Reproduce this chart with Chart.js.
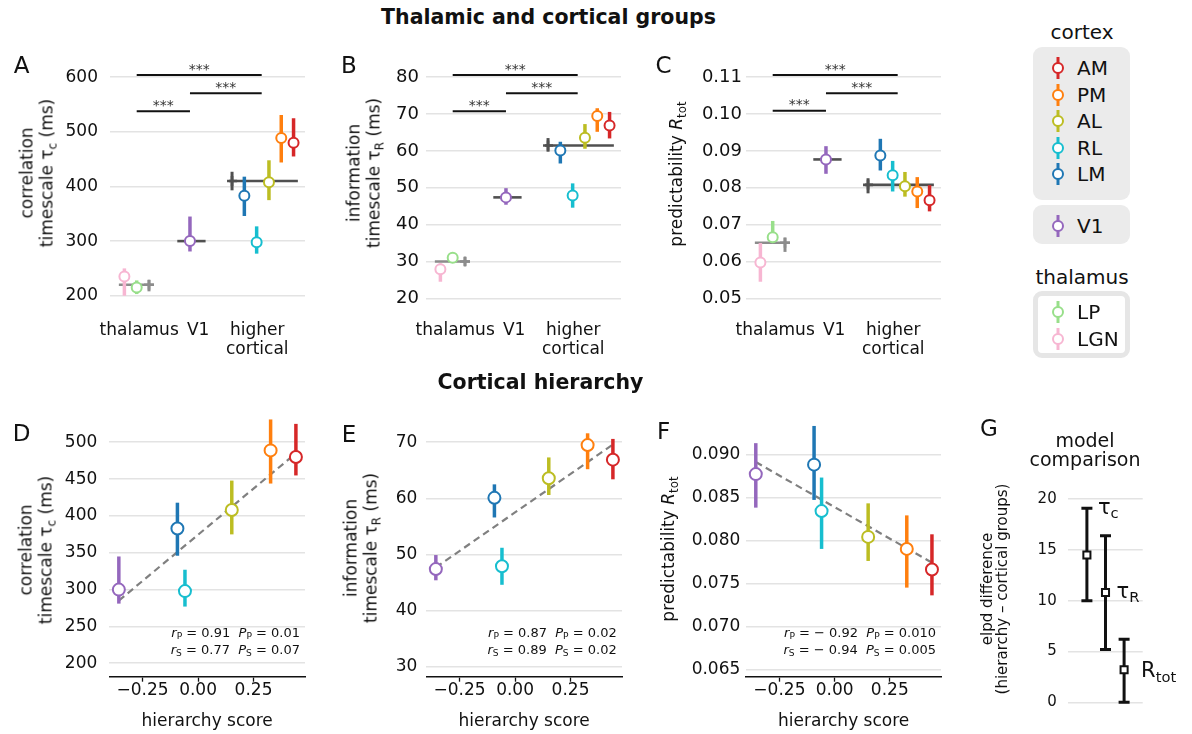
<!DOCTYPE html>
<html>
<head>
<meta charset="utf-8">
<script src="https://cdn.jsdelivr.net/npm/chart.js@4.4.0/dist/chart.umd.min.js"></script>
<style>
  body { margin: 0; background: #fff; }
  #fig { position: relative; width: 1192px; height: 734px; overflow: hidden; font-family: 'DejaVu Sans', sans-serif; color: #111; }
  canvas.panel { position: absolute; }
  .txt { position: absolute; white-space: nowrap; line-height: 1; }
  .c { transform: translate(-50%, -50%); text-align: center; }
  .rot { transform: translate(-50%, -50%) rotate(-90deg); text-align: center; }
  .r { transform: translate(-100%, -50%); text-align: right; }
  sub { font-size: 0.7em; vertical-align: -0.3em; line-height: 0; }
  .legbox { position: absolute; left: 1033px; width: 97px; border-radius: 9px; box-sizing: border-box; }
</style>
</head>
<body>
<div id="fig"></div>
<script>
// areas, in plotting order for panels A-C
const areaNames = ['LGN', 'LP', 'V1', 'LM', 'RL', 'AL', 'PM', 'AM'];
const areaColors = ['#f7b6d2', '#98df8a', '#9467bd', '#1f77b4', '#17becf', '#bcbd22', '#ff7f0e', '#d62728'];
const areaSlot = [-1, 0, 4.33, 8.75, 9.75, 10.75, 11.75, 12.75];
const groupLabels = ['thalamus', 'V1', ['higher', 'cortical']];
const groupTickSlot = [0.2, 5.0, 9.8];

// per-area estimates (median, lower, upper)
const tauC   = [235, 215, 300, 383, 298, 408, 489, 480];
const tauCLo = [200, 203, 281, 346, 277, 375, 444, 455];
const tauCHi = [250, 228, 345, 418, 327, 448, 531, 525];
const tauR   = [27.9, 31.0, 47.4, 60.1, 47.9, 63.6, 69.5, 66.9];
const tauRLo = [24.5, 30.0, 45.4, 56.6, 44.6, 60.6, 65.2, 63.4];
const tauRHi = [29.5, 32.0, 49.9, 62.5, 51.2, 67.3, 71.6, 70.6];
const rTot   = [0.0597, 0.0666, 0.0877, 0.0888, 0.0834, 0.0804, 0.0790, 0.0766];
const rTotLo = [0.0545, 0.0650, 0.0838, 0.0847, 0.0790, 0.0776, 0.0745, 0.0736];
const rTotHi = [0.0650, 0.0710, 0.0913, 0.0933, 0.0873, 0.0843, 0.0829, 0.0807];

// group means: thalamus, V1, higher cortical
const groupSpan = [[-1.45, 1.4], [3.3, 5.6], [7.5, 13.1]];
const groupCrossSlot = [1, null, 7.75];
const groupColors = ['#8c8c8c', '#505050', '#505050'];
const tauCGroup   = [220, 300, 410];
const tauCGroupLo = [208, null, 393];
const tauCGroupHi = [229, null, 427];
const tauRGroup   = [30.0, 47.4, 61.5];
const tauRGroupLo = [28.8, null, 59.8];
const tauRGroupHi = [31.2, null, 63.5];
const rTotGroup   = [0.0651, 0.0877, 0.0808];
const rTotGroupLo = [0.0626, null, 0.0785];
const rTotGroupHi = [0.0665, null, 0.0826];

// significance brackets
const sigSpans = [[0, 10.16], [4.33, 10.16], [0, 4.33]];
const tauCSig = [604, 571, 538];
const tauRSig = [80.6, 75.7, 70.8];
const rTotSig = [0.1106, 0.1057, 0.1009];

const tauCTicks = [200, 300, 400, 500, 600];
const tauRTicks = [20, 30, 40, 50, 60, 70, 80];
const rTotTicks = [0.05, 0.06, 0.07, 0.08, 0.09, 0.10, 0.11];

// cortical hierarchy (V1, LM, RL, AL, PM, AM)
const hierScore = [-0.357, -0.093, -0.059, 0.152, 0.327, 0.441];
const hierTicks = [-0.25, 0, 0.25];
const tauCFit = [285, 485];
const tauRFit = [47.7, 69.6];
const rTotFit = [0.0891, 0.0774];
const tauCTicksD = [200, 250, 300, 350, 400, 450, 500];
const tauRTicksE = [30, 40, 50, 60, 70];
const rTotTicksF = [0.065, 0.070, 0.075, 0.080, 0.085, 0.090];
const statsD = ['0.91', '0.01', '0.77', '0.07'];
const statsE = ['0.87', '0.02', '0.89', '0.02'];
const statsF = ['− 0.92', '0.010', '− 0.94', '0.005'];

// model comparison
const modelNames = [['τ', 'c'], ['τ', 'R'], ['R', 'tot']];
const elpd   = [14.5, 10.8, 3.2];
const elpdLo = [10.0, 5.2, 0.0];
const elpdHi = [19.1, 16.4, 6.2];
const elpdTicks = [0, 5, 10, 15, 20];

Chart.defaults.font.family = "'DejaVu Sans', sans-serif";
Chart.defaults.color = '#111';
Chart.defaults.animation = false;

const fig = document.getElementById('fig');

// vertical error bars under each point of a dataset
const errorBars = {
  id: 'errorBars',
  beforeDatasetDraw(chart, args) {
    const ds = chart.data.datasets[args.index];
    if (!ds.errLo) return;
    const ctx = chart.ctx, xs = chart.scales.x, ys = chart.scales.y;
    ctx.save();
    ds.data.forEach((p, i) => {
      if (ds.errLo[i] == null) return;
      const px = xs.getPixelForValue(p.x);
      const top = ys.getPixelForValue(ds.errHi[i]);
      const bot = ys.getPixelForValue(ds.errLo[i]);
      ctx.strokeStyle = Array.isArray(ds.barColor) ? ds.barColor[i] : ds.barColor;
      ctx.lineWidth = ds.barWidth;
      ctx.beginPath();
      ctx.moveTo(px, top); ctx.lineTo(px, bot);
      if (ds.capWidth) {
        ctx.moveTo(px - ds.capWidth / 2, top); ctx.lineTo(px + ds.capWidth / 2, top);
        ctx.moveTo(px - ds.capWidth / 2, bot); ctx.lineTo(px + ds.capWidth / 2, bot);
      }
      ctx.stroke();
    });
    ctx.restore();
  }
};

const stars = {
  id: 'stars',
  afterDatasetsDraw(chart) {
    const ctx = chart.ctx, xs = chart.scales.x, ys = chart.scales.y;
    chart.data.datasets.forEach(ds => {
      if (!ds.stars) return;
      const x = (xs.getPixelForValue(ds.data[0].x) + xs.getPixelForValue(ds.data[1].x)) / 2;
      const y = ys.getPixelForValue(ds.data[0].y);
      ctx.save();
      ctx.font = "14px 'DejaVu Sans'";
      ctx.fillStyle = '#333';
      ctx.textAlign = 'center';
      ctx.textBaseline = 'alphabetic';
      ctx.fillText(ds.stars, x, y - 1.5);
      ctx.restore();
    });
  }
};

function drawSub(ctx, main, sub, x, y, size, capCentre) {
  ctx.font = size + "px 'DejaVu Sans'";
  ctx.textBaseline = 'alphabetic';
  ctx.textAlign = 'left';
  ctx.fillStyle = '#111';
  const base = y + (capCentre ? 0.36 : 0.27) * size;
  ctx.fillText(main, x, base);
  const w = ctx.measureText(main).width;
  ctx.font = (size * 0.7) + "px 'DejaVu Sans'";
  ctx.fillText(sub, x + w, base + 0.2 * size);
}

const modelLabels = {
  id: 'modelLabels',
  afterDatasetsDraw(chart) {
    const ctx = chart.ctx, xs = chart.scales.x, ys = chart.scales.y;
    ctx.save();
    modelNames.forEach((n, i) => {
      const x = xs.getPixelForValue(i) + (i === 2 ? 17 : 11);
      const y = ys.getPixelForValue(i === 0 ? elpdHi[i] : elpd[i]);
      drawSub(ctx, n[0], n[1], x, y, 21, i === 2);
    });
    ctx.restore();
  }
};

function makeCanvas(b) {
  const c = document.createElement('canvas');
  c.className = 'panel';
  c.width = b.w; c.height = b.h;
  c.style.left = b.left + 'px';
  c.style.top = b.top + 'px';
  fig.appendChild(c);
  return c;
}

function yScale(b, min, max, ticks, dec, pad, size) {
  return {
    type: 'linear', min: min, max: max,
    afterBuildTicks: s => { s.ticks = ticks.map(v => ({ value: v })); },
    afterFit: s => { s.width = b.area[0] - b.left; },
    grid: { color: '#e3e3e3', lineWidth: 1.6, drawTicks: false },
    border: { display: false },
    ticks: { padding: pad, font: { size: size }, color: '#111', callback: v => v.toFixed(dec) }
  };
}

function addText(html, x, y, cls, size, extra) {
  const d = document.createElement('div');
  d.className = 'txt ' + cls;
  d.innerHTML = html;
  d.style.left = x + 'px';
  d.style.top = y + 'px';
  d.style.fontSize = size + 'px';
  if (extra) Object.assign(d.style, extra);
  fig.appendChild(d);
}

function pts(xs, ys) { return xs.map((x, i) => ({ x: x, y: ys[i] })); }

function groupPanel(b, vals, lo, hi, gMean, gLo, gHi, sig, yMin, yMax, ticks, dec, pad, size) {
  const datasets = [{
    data: pts(areaSlot, vals), errLo: lo, errHi: hi, barColor: areaColors, barWidth: 3.5,
    pointRadius: 5, pointBorderWidth: 2, pointBackgroundColor: '#fff', pointBorderColor: areaColors,
    order: 0, clip: false
  }, {
    data: groupCrossSlot.map((x, i) => ({ x: x, y: gMean[i] })).filter(p => p.x !== null),
    errLo: gLo.filter(v => v !== null), errHi: gHi.filter(v => v !== null),
    barColor: [groupColors[0], groupColors[2]], barWidth: 3,
    pointStyle: 'cross', pointRadius: 5, pointBorderWidth: 2.6,
    pointBorderColor: [groupColors[0], groupColors[2]], order: 1, clip: false
  }];
  groupSpan.forEach((s, i) => datasets.push({
    data: [{ x: s[0], y: gMean[i] }, { x: s[1], y: gMean[i] }], showLine: true,
    borderColor: groupColors[i], borderWidth: 2.6, pointRadius: 0, order: 2, clip: false
  }));
  sigSpans.forEach((s, i) => datasets.push({
    data: [{ x: s[0], y: sig[i] }, { x: s[1], y: sig[i] }], showLine: true, stars: '***',
    borderColor: '#111', borderWidth: 2, pointRadius: 0, order: 3, clip: false
  }));
  new Chart(makeCanvas(b), {
    type: 'scatter',
    data: { datasets: datasets },
    plugins: [errorBars, stars],
    options: {
      responsive: false, events: [],
      layout: { padding: { top: b.area[1] - b.top, right: b.left + b.w - b.area[2], left: 0, bottom: 0 } },
      plugins: { legend: { display: false }, tooltip: { enabled: false } },
      scales: {
        x: {
          type: 'linear', min: -2.17, max: 13.68,
          afterBuildTicks: s => { s.ticks = groupTickSlot.map(v => ({ value: v })); },
          afterFit: s => { s.height = b.top + b.h - b.area[3]; },
          grid: { display: false }, border: { display: false },
          ticks: { padding: 12, autoSkip: false, maxRotation: 0, font: { size: 17, lineHeight: 1.12 }, color: '#111',
            callback: (v, i) => groupLabels[i] }
        },
        y: yScale(b, yMin, yMax, ticks, dec, pad, size)
      }
    }
  });
}

function hierPanel(b, vals, lo, hi, fit, yMin, yMax, ticks, dec, pad) {
  const cols = areaColors.slice(2);
  new Chart(makeCanvas(b), {
    type: 'scatter',
    data: { datasets: [{
      data: pts(hierScore, vals), errLo: lo, errHi: hi, barColor: cols, barWidth: 3.5,
      pointRadius: 6, pointBorderWidth: 2, pointBackgroundColor: '#fff', pointBorderColor: cols,
      order: 0, clip: false
    }, {
      data: [{ x: hierScore[0], y: fit[0] }, { x: hierScore[5], y: fit[1] }], showLine: true,
      borderColor: '#808080', borderWidth: 2.2, borderDash: [7, 4.5], pointRadius: 0, order: 1, clip: false
    }] },
    plugins: [errorBars],
    options: {
      responsive: false, events: [],
      layout: { padding: { top: b.area[1] - b.top, right: b.left + b.w - b.area[2], left: 0, bottom: 0 } },
      plugins: { legend: { display: false }, tooltip: { enabled: false } },
      scales: {
        x: {
          type: 'linear', min: -0.40, max: 0.482,
          afterBuildTicks: s => { s.ticks = hierTicks.map(v => ({ value: v })); },
          afterFit: s => { s.height = b.top + b.h - b.area[3]; },
          grid: { display: true, drawOnChartArea: false, drawTicks: true, tickLength: 5, color: '#111', tickWidth: 1.3 },
          border: { display: true, color: '#111', width: 1.6 },
          ticks: { padding: 0, font: { size: 17, lineHeight: 1 }, color: '#111',
            callback: v => v.toFixed(2).replace('-', '−') },
          title: { display: true, text: 'hierarchy score', font: { size: 17 }, color: '#111', padding: { top: 0, bottom: 2 } }
        },
        y: yScale(b, yMin, yMax, ticks, dec, pad, 17)
      }
    }
  });
}

// panel boxes: canvas position and the plot area inside it (left, top, right, bottom)
const boxA = { left: 0,   top: 40, w: 320, h: 320, area: [110, 69, 305, 301] };
const boxB = { left: 316, top: 40, w: 320, h: 320, area: [426, 69, 621, 301] };
const boxC = { left: 636, top: 40, w: 320, h: 320, area: [746, 69, 941, 301] };
const boxD = { left: 0,     top: 390, w: 320, h: 344, area: [109.3, 414, 305, 676.7] };
const boxE = { left: 316.7, top: 390, w: 320, h: 344, area: [426, 414, 621.7, 676.7] };
const boxF = { left: 636.7, top: 390, w: 320, h: 344, area: [746, 414, 940.7, 676.7] };
const boxG = { left: 960,   top: 400, w: 232, h: 334, area: [1068.3, 490, 1142.7, 706] };

groupPanel(boxA, tauC, tauCLo, tauCHi, tauCGroup, tauCGroupLo, tauCGroupHi, tauCSig, 190.3, 615.2, tauCTicks, 0, 12, 17);
groupPanel(boxB, tauR, tauRLo, tauRHi, tauRGroup, tauRGroupLo, tauRGroupHi, tauRSig, 19.27, 82.25, tauRTicks, 0, 7, 18);
groupPanel(boxC, rTot, rTotLo, rTotHi, rTotGroup, rTotGroupLo, rTotGroupHi, rTotSig, 0.04927, 0.11225, rTotTicks, 2, 4, 18);

hierPanel(boxD, tauC.slice(2), tauCLo.slice(2), tauCHi.slice(2), tauCFit, 181.8, 538.4, tauCTicksD, 0, 12);
hierPanel(boxE, tauR.slice(2), tauRLo.slice(2), tauRHi.slice(2), tauRFit, 28.22, 75.04, tauRTicksE, 0, 9);
hierPanel(boxF, rTot.slice(2), rTotLo.slice(2), rTotHi.slice(2), rTotFit, 0.06414, 0.09469, rTotTicksF, 3, 6);

// G: model comparison
new Chart(makeCanvas(boxG), {
  type: 'scatter',
  data: { datasets: [{
    data: pts([0, 1, 2], elpd), errLo: elpdLo, errHi: elpdHi, barColor: '#111', barWidth: 3, capWidth: 11,
    pointStyle: 'rect', pointRadius: 5, pointBorderWidth: 2, pointBackgroundColor: '#fff', pointBorderColor: '#111',
    clip: false
  }] },
  plugins: [errorBars, modelLabels],
  options: {
    responsive: false, events: [],
    layout: { padding: { top: boxG.area[1] - boxG.top, right: boxG.left + boxG.w - boxG.area[2], left: 0,
      bottom: boxG.top + boxG.h - boxG.area[3] } },
    plugins: { legend: { display: false }, tooltip: { enabled: false } },
    scales: {
      x: { type: 'linear', min: -1, max: 3, display: false },
      y: yScale(boxG, -0.36, 20.89, elpdTicks, 0, 11.6, 15)
    }
  }
});

// titles, panel letters, axis titles
addText('Thalamic and cortical groups', 548.5, 16.5, 'c', 20.5, { fontWeight: 'bold' });
addText('Cortical hierarchy', 540.5, 382, 'c', 20.5, { fontWeight: 'bold' });
[['A', 21.5, 65], ['B', 349, 65], ['C', 663.5, 65], ['D', 21.5, 432.5], ['E', 349, 433.5], ['F', 663.5, 431], ['G', 989, 427.5]]
  .forEach(l => addText(l[0], l[1], l[2], 'c', 23));

const yt = { lineHeight: '19.5px' };
addText('correlation<br>timescale τ<sub>c</sub> (ms)', 37, 173, 'rot', 17, yt);
addText('information<br>timescale τ<sub>R</sub> (ms)', 363.5, 173, 'rot', 17, yt);
addText('predictability <i>R</i><sub>tot</sub>', 677, 174, 'rot', 17, yt);
addText('correlation<br>timescale τ<sub>c</sub> (ms)', 36, 550, 'rot', 17, yt);
addText('information<br>timescale τ<sub>R</sub> (ms)', 361, 548, 'rot', 17, yt);
addText('predictability <i>R</i><sub>tot</sub>', 669, 549, 'rot', 17, yt);
addText('elpd difference<br>(hierarchy – cortical groups)', 995, 589, 'rot', 15, { lineHeight: '15px' });
addText('model<br>comparison', 1085, 450, 'c', 19, { lineHeight: '19px' });

function statRows(s, right) {
  addText('<i>r</i><sub>P</sub> = ' + s[0] + '&nbsp;&nbsp;<i>P</i><sub>P</sub> = ' + s[1], right, 632, 'r', 13);
  addText('<i>r</i><sub>S</sub> = ' + s[2] + '&nbsp;&nbsp;<i>P</i><sub>S</sub> = ' + s[3], right, 648.5, 'r', 13);
}
statRows(statsD, 300);
statRows(statsE, 616.7);
statRows(statsF, 936);

// legend
function marker(color) {
  return '<svg width="16" height="22" style="position:absolute;left:17px;top:-11px">' +
    '<line x1="8" y1="0" x2="8" y2="22" stroke="' + color + '" stroke-width="3"/>' +
    '<circle cx="8" cy="11" r="5" fill="#fff" stroke="' + color + '" stroke-width="2"/></svg>';
}
function legendBox(top, height, style, idx) {
  const box = document.createElement('div');
  box.className = 'legbox';
  box.style.top = top + 'px';
  box.style.height = height + 'px';
  Object.assign(box.style, style);
  fig.appendChild(box);
  const bw = style.border ? 5 : 0;
  idx.forEach((k, j) => {
    const it = document.createElement('div');
    it.style.position = 'absolute';
    it.style.left = -bw + 'px';
    it.style.top = ((style.border ? 21 - bw : 21.3) + j * 26.5) + 'px';
    it.innerHTML = marker(areaColors[k]) +
      '<span style="position:absolute;left:44px;top:-10px;font-size:20px;line-height:20px">' + areaNames[k] + '</span>';
    box.appendChild(it);
  });
}
addText('cortex', 1082, 32, 'c', 20);
legendBox(47, 153, { background: '#ebebeb' }, [7, 6, 5, 4, 3]);
legendBox(205, 39, { background: '#ebebeb' }, [2]);
addText('thalamus', 1082, 277, 'c', 20);
legendBox(291, 67, { background: '#fff', border: '5px solid #e6e6e6' }, [1, 0]);
</script>
</body>
</html>
